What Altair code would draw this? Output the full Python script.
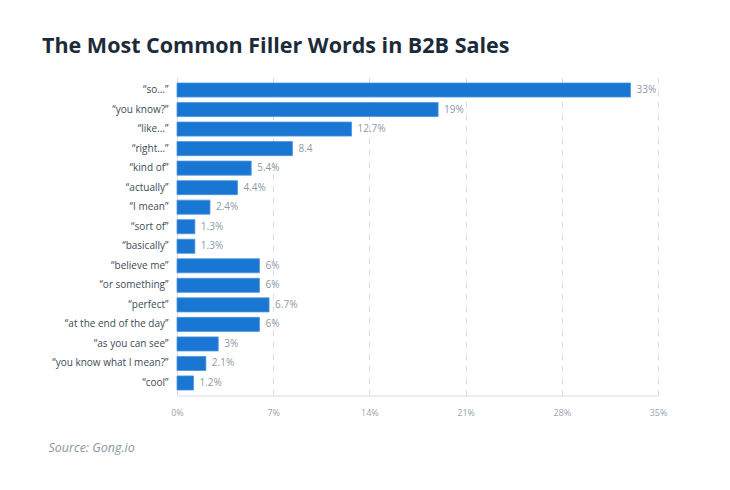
import altair as alt
import pandas as pd

words = ["“so…”", "“you know?”", "“like…”", "“right…”", "“kind of”", "“actually”",
         "“I mean”", "“sort of”", "“basically”", "“believe me”", "“or something”",
         "“perfect”", "“at the end of the day”", "“as you can see”",
         "“you know what I mean?”", "“cool”"]
values = [33, 19, 12.7, 8.4, 5.4, 4.4, 2.4, 1.3, 1.3, 6, 6, 6.7, 6, 3, 2.1, 1.2]
labels = ["33%", "19%", "12.7%", "8.4", "5.4%", "4.4%", "2.4%", "1.3%", "1.3%",
          "6%", "6%", "6.7%", "6%", "3%", "2.1%", "1.2%"]
ticks = [0, 7, 14, 21, 28, 35]

df = pd.DataFrame({"word": words, "value": values, "label": labels})

FONT = "Open Sans"

x = alt.X("value:Q", scale=alt.Scale(domain=[0, 35], nice=False),
          axis=alt.Axis(values=ticks, labelExpr="datum.value + '%'",
                        title="Source: Gong.io", titleFont=FONT, titleFontStyle="italic",
                        titleFontWeight="normal", titleFontSize=12.5, titleColor="#8a96a3",
                        titleX=-129, titleY=56, titleAlign="left", titleAnchor="start",
                        titleBaseline="alphabetic",
                        grid=True, gridDash=[6, 6], gridColor="#d9dee4", gridWidth=1,
                        domain=True, domainColor="#d9dee4", ticks=False,
                        labelFont=FONT, labelFontSize=9, labelColor="#9aa4ae",
                        labelPadding=13, labelFlush=False))
y = alt.Y("word:N", sort=words,
          scale=alt.Scale(paddingInner=0.28, paddingOuter=0.28),
          axis=alt.Axis(title=None, ticks=False, domain=True, domainColor="#d9dee4",
                        labelFont=FONT, labelFontSize=10, labelColor="#3d4a57",
                        labelPadding=9))

bars = alt.Chart(df).mark_bar(color="#1976d2", stroke="#4d94dd", strokeWidth=0.8).encode(x=x, y=y)
text = alt.Chart(df).mark_text(align="left", baseline="middle", dx=6, font=FONT,
                               fontSize=10, color="#8d99a6").encode(x=x, y=y, text="label:N")

chart = (bars + text).properties(
    width=481, height=318,
    title=alt.TitleParams("The Most Common Filler Words in B2B Sales", font=FONT,
                          fontSize=21.5, fontWeight="bold", color="#1c2b3a",
                          anchor="start", frame="group", dx=-135, offset=20),
    autosize=alt.AutoSizeParams(type="none"),
    padding={"left": 169, "top": 69.5, "right": 64, "bottom": 86},
).configure_view(stroke=None)

chart.save("out.html", embed_options={"renderer": "svg", "actions": False})
